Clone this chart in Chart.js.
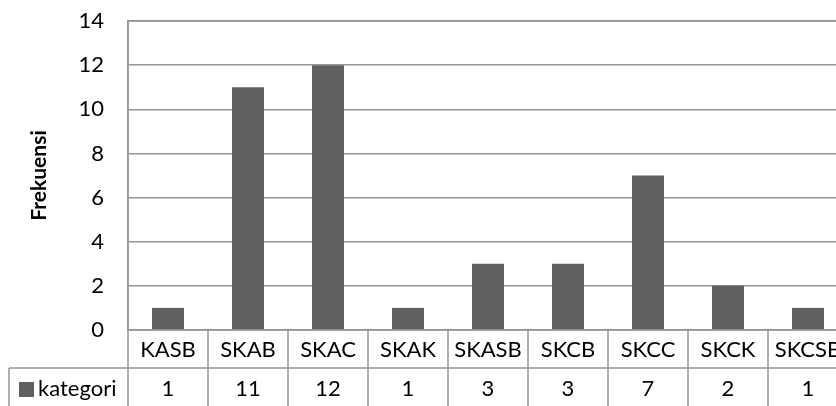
<!DOCTYPE html>
<html>
<head>
<meta charset="utf-8">
<script src="https://cdn.jsdelivr.net/npm/chart.js@4/dist/chart.umd.min.js"></script>
<style>
  html, body { margin: 0; padding: 0; background: #fff; overflow: hidden; }
  #wrap { width: 836px; height: 406px; overflow: hidden; }
</style>
</head>
<body>
<div id="wrap"><canvas id="chart" width="860" height="406"></canvas></div>
<script>
// Frekuensi per kategori
const categories = ['KASB', 'SKAB', 'SKAC', 'SKAK', 'SKASB', 'SKCB', 'SKCC', 'SKCK', 'SKCSB'];
const frekuensi = [1, 11, 12, 1, 3, 3, 7, 2, 1];
const seriesName = 'kategori';
const yMax = 14;
const yStep = 2;

const FONT = 'Lato, "Noto Sans", sans-serif';
const FS = 22;
const BAR = '#606060';
const LINE = '#959595';

// Tabel data di bawah grafik (baris nilai + garis sel)
const dataTablePlugin = {
  id: 'dataTable',
  afterDraw(chart) {
    const ctx = chart.ctx;
    const x = chart.scales.x;
    const area = chart.chartArea;
    const n = categories.length;
    const step = (area.right - area.left) / n;
    const row1 = area.bottom;
    const row2 = x.bottom;
    const end = chart.height + 5;

    ctx.save();
    ctx.strokeStyle = LINE;
    ctx.lineWidth = 1.5;
    ctx.beginPath();
    // garis horizontal
    ctx.moveTo(area.left, row1); ctx.lineTo(area.right, row1);
    ctx.moveTo(9, row2); ctx.lineTo(area.right, row2);
    // garis vertikal antar kategori
    for (let i = 0; i <= n; i++) {
      const px = area.left + i * step;
      ctx.moveTo(px, i === 0 ? area.top : row1);
      ctx.lineTo(px, end);
    }
    ctx.moveTo(9, row2); ctx.lineTo(9, end);
    // bingkai atas area plot
    ctx.moveTo(area.left, area.top); ctx.lineTo(area.right, area.top);
    ctx.stroke();

    // kunci legenda + nama seri
    const midY = row2 + 21;
    ctx.fillStyle = BAR;
    ctx.fillRect(19, midY - 7, 15, 15);
    ctx.fillStyle = '#000';
    ctx.font = FS + 'px ' + FONT;
    ctx.textBaseline = 'middle';
    ctx.textAlign = 'left';
    ctx.fillText(seriesName, 38, midY);

    // nilai tiap kategori
    ctx.textAlign = 'center';
    frekuensi.forEach((v, i) => {
      ctx.fillText(String(v), x.getPixelForValue(i), midY);
    });
    ctx.restore();
  }
};

new Chart(document.getElementById('chart'), {
  type: 'bar',
  data: {
    labels: categories,
    datasets: [{
      label: seriesName,
      data: frekuensi,
      backgroundColor: BAR,
      borderWidth: 0,
      barPercentage: 0.4,
      categoryPercentage: 1.0
    }]
  },
  options: {
    responsive: false,
    animation: false,
    devicePixelRatio: 1,
    layout: { padding: { top: 21, right: 12, bottom: 38, left: 0 } },
    plugins: {
      legend: { display: false },
      tooltip: { enabled: false }
    },
    scales: {
      x: {
        offset: true,
        grid: { display: false, drawTicks: false },
        border: { display: false },
        ticks: {
          color: '#000',
          font: { family: FONT, size: FS },
          padding: 7,
          maxRotation: 0,
          autoSkip: false
        },
        afterFit(scale) { scale.height = 38; }
      },
      y: {
        min: 0,
        max: yMax,
        // tick mark tak terlihat, hanya memberi jarak label ke sumbu
        grid: { color: LINE, lineWidth: 1.5, drawTicks: true, tickLength: 20, tickColor: 'transparent' },
        border: { display: true, color: LINE, width: 1.5 },
        ticks: {
          stepSize: yStep,
          color: '#000',
          font: { family: FONT, size: FS },
          padding: 4
        },
        title: {
          display: true,
          text: 'Frekuensi',
          color: '#000',
          font: { family: FONT, size: 21, weight: 'bold' },
          padding: { top: 27, bottom: 0 }
        },
        afterFit(scale) { scale.width = 128; }
      }
    }
  },
  plugins: [dataTablePlugin]
});
</script>
</body>
</html>
